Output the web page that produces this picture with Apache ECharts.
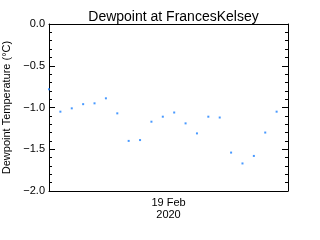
<!DOCTYPE html>
<html><head><meta charset="utf-8">
<script src="https://cdn.jsdelivr.net/npm/echarts@6/dist/echarts.min.js"></script>
<style>html,body{margin:0;padding:0;background:#fff}#c{width:320px;height:240px}</style>
</head><body><div id="c"></div>
<script>
const titleText = "Dewpoint at FrancesKelsey";
const yName = "Dewpoint Temperature (°C)";
const xName = "19 Feb\n2020";
const stepIndex = [0,1,2,3,4,5,6,7,8,9,10,11,12,13,14,15,16,17,18,19,20];
const dewpoint = [-0.78,-1.05,-1.01,-0.96,-0.95,-0.89,-1.07,-1.40,-1.39,-1.17,-1.11,-1.06,-1.19,-1.31,-1.11,-1.12,-1.54,-1.67,-1.58,-1.30,-1.05];
const yMin = -2.0, yMax = 0.0, yStep = 0.5;

const font = 'Liberation Sans';
const fmt = v => (v < 0 ? '\u2212' : '') + Math.abs(v).toFixed(1);
const chart = echarts.init(document.getElementById('c'), null, {renderer:'canvas'});
chart.setOption({
  animation:false,
  backgroundColor:'#fff',
  title:{text:titleText, left:168.5, textAlign:'center', top:5,
    textStyle:{fontFamily:font, fontSize:14, fontWeight:'normal', color:'#000'}},
  grid:{left:49, right:32, top:24, bottom:49, containLabel:false, outerBoundsMode:'none'},
  xAxis:[
    {type:'value', min:0, max:21, position:'bottom',
     axisLine:{show:true, onZero:false, lineStyle:{color:'#000', width:1}},
     axisTick:{show:false}, axisLabel:{show:false}, splitLine:{show:false},
     name:xName, nameLocation:'middle', nameGap:6,
     nameTextStyle:{fontFamily:font, fontSize:11, color:'#000', lineHeight:12, verticalAlign:'top'}},
    {type:'value', min:0, max:21, position:'top',
     axisLine:{show:true, onZero:false, lineStyle:{color:'#000', width:1}},
     axisTick:{show:false}, axisLabel:{show:false}, splitLine:{show:false}}
  ],
  yAxis:[
    {type:'value', min:yMin, max:yMax, interval:yStep, position:'left',
     axisLine:{show:true, onZero:false, lineStyle:{color:'#000', width:1}},
     axisTick:{show:true, inside:true, length:6, lineStyle:{color:'#000'}},
     minorTick:{show:true, splitNumber:5, length:3, lineStyle:{color:'#000'}},
     axisLabel:{formatter:fmt, fontFamily:font, fontSize:11, color:'#000', margin:4},
     splitLine:{show:false},
     name:yName, nameLocation:'middle', nameGap:32, nameRotate:90,
     nameTextStyle:{fontFamily:font, fontSize:11, color:'#000'}},
    {type:'value', min:yMin, max:yMax, interval:yStep, position:'right',
     axisLine:{show:true, onZero:false, lineStyle:{color:'#000', width:1}},
     axisTick:{show:true, inside:true, length:6, lineStyle:{color:'#000'}},
     minorTick:{show:true, splitNumber:5, length:3, lineStyle:{color:'#000'}},
     axisLabel:{show:false}, splitLine:{show:false}}
  ],
  series:[{
    type:'scatter', xAxisIndex:0, yAxisIndex:0, clip:false, z:10,
    symbol:'rect', symbolSize:2,
    itemStyle:{color:'#1a80ff'},
    data: stepIndex.map((x,i)=>[x, dewpoint[i]])
  }]
});
</script></body></html>
